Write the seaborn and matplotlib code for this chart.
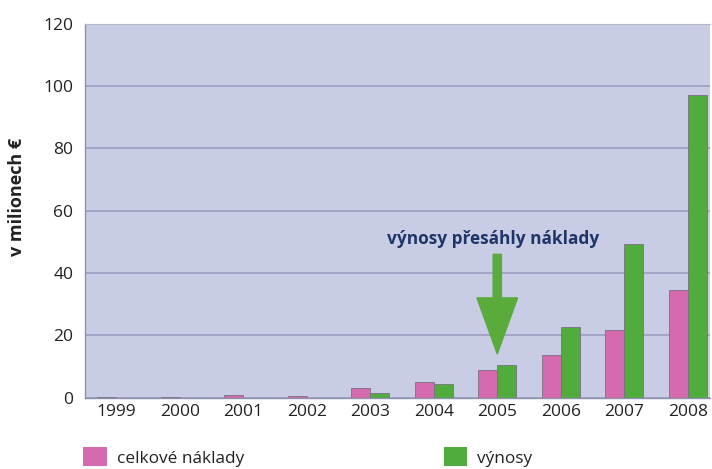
import matplotlib
matplotlib.use("Agg")
import matplotlib.pyplot as plt
import seaborn as sns
import pandas as pd
from matplotlib.patches import Patch
from matplotlib.ticker import FixedLocator

years = ["1999", "2000", "2001", "2002", "2003", "2004", "2005", "2006", "2007", "2008"]
costs = [0.2, 0.3, 0.7, 0.6, 2.9, 5.0, 8.7, 13.5, 21.6, 34.5]
revenues = [0.0, 0.0, 0.0, 0.0, 1.4, 4.4, 10.6, 22.8, 49.4, 97.2]
series_names = ["celkové náklady", "výnosy"]
yticks = [0, 20, 40, 60, 80, 100, 120]
ylabel = "v milionech €"
note = "výnosy přesáhly náklady"

pink = "#d56aae"
green = "#4fac3d"

df = pd.DataFrame({
    "rok": years * 2,
    "hodnota": costs + revenues,
    "řada": [series_names[0]] * len(years) + [series_names[1]] * len(years),
})

sns.set_style("white")
plt.rcParams["font.family"] = ["Open Sans", "DejaVu Sans"]

fig = plt.figure(figsize=(7.12, 4.69), dpi=100)
ax = fig.add_axes([84.5 / 712, 1 - 397.5 / 469, (710 - 84.5) / 712, (397.5 - 24) / 469])
ax.set_facecolor("#c9cce5")

sns.barplot(data=df, x="rok", y="hodnota", hue="řada",
            palette=[pink, green], width=0.6, ax=ax, legend=False,
            edgecolor="#7c6f80", linewidth=0.6, saturation=1)

ax.set_xlim(-0.5, 9.35)
ax.set_ylim(0, 120)
ax.set_yticks(yticks)
ax.set_yticklabels([str(t) for t in yticks], fontsize=12.5, color="#222222")
ax.tick_params(axis="x", length=0, labelsize=12.5, labelcolor="#222222", pad=5)
ax.xaxis.set_minor_locator(FixedLocator([i + 0.5 for i in range(-1, 10)]))
ax.tick_params(axis="x", which="minor", length=4, color="#9a9cb5", direction="out")
ax.tick_params(axis="y", length=5, color="#8c8fa8", direction="out", pad=3)
ax.yaxis.grid(True, color="#9b9ec0", linewidth=1.2)
ax.set_axisbelow(True)
ax.set_xlabel("")
ax.set_ylabel(ylabel, fontsize=13, fontweight="bold", color="#222222")
ax.yaxis.set_label_coords(-0.093, 0.537)

for side in ["left", "bottom"]:
    ax.spines[side].set_color("#8e91ab")
    ax.spines[side].set_linewidth(1.0)
ax.spines["top"].set_color("#b8b9c6")
ax.spines["right"].set_visible(False)

# arrow and note
ax.arrow(6, 46, 0, -32, width=0.13, head_width=0.64, head_length=18,
         length_includes_head=True, color="#5aab3c", zorder=5)
ax.text(5.93, 51, note, ha="center", va="center", fontsize=12.4,
        fontweight="bold", color="#1f3566")

# legend
handles = [Patch(facecolor=pink, edgecolor="none"), Patch(facecolor=green, edgecolor="none")]
fig.legend(handles, series_names, loc="center left", bbox_to_anchor=(83 / 712, 1 - 457 / 469),
           ncol=2, frameon=False, fontsize=12.4, handlelength=1.38, handleheight=1.27,
           columnspacing=11.6, handletextpad=0.57, labelcolor="#222222", borderpad=0,
           borderaxespad=0)

fig.savefig("out.png", dpi=100)
